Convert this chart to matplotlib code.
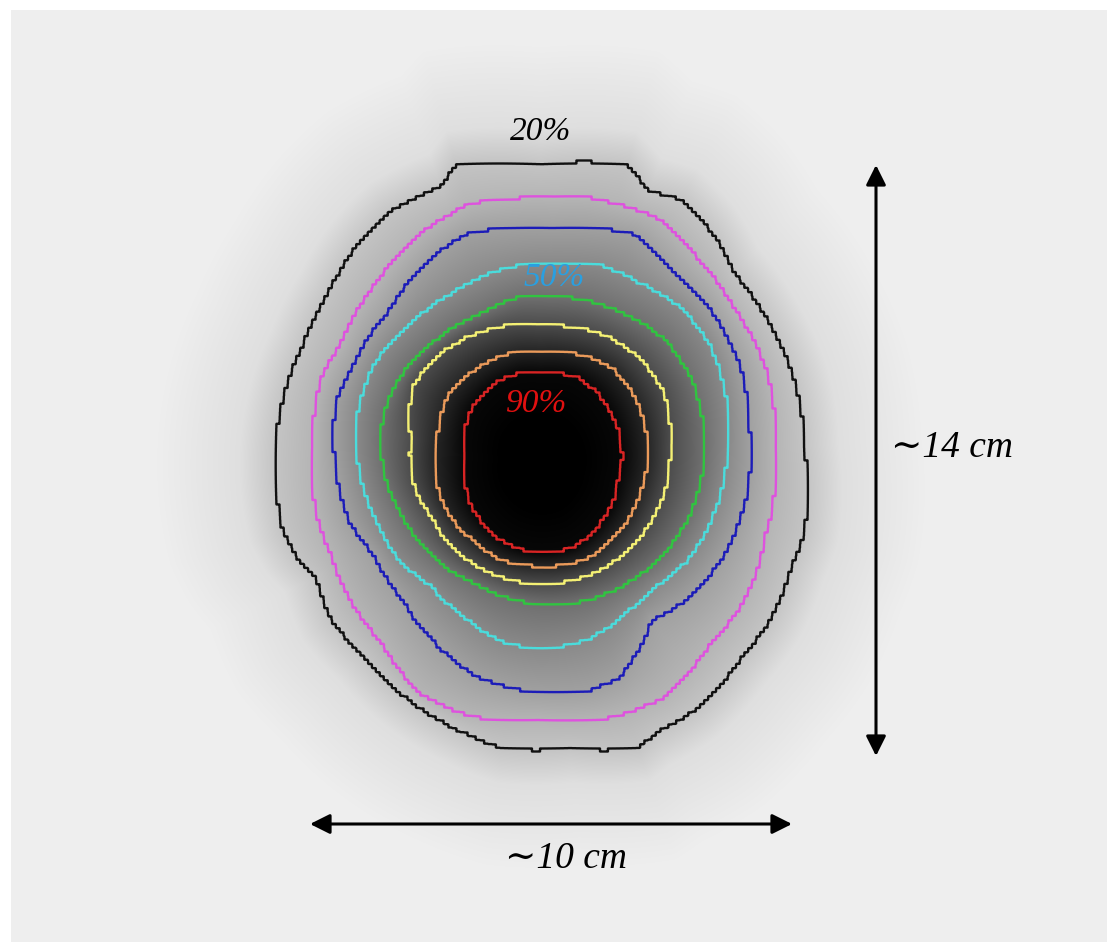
import numpy as np
import matplotlib
matplotlib.use('Agg')
import matplotlib.pyplot as plt

# isodose levels (%) and their line colours
levels = [20, 30, 40, 50, 60, 70, 80, 90]
level_colors = ['#111111', '#de52de', '#1c1cb8', '#4adcdc', '#30c440', '#f4f074', '#ea9a5a', '#d82424']

# isodose outlines (pixel positions)
iso20_x = [541, 627, 649, 681, 713, 734, 770, 795, 804, 804, 791, 770, 741, 699, 656, 638, 570, 502, 456, 406, 363, 331, 316, 299, 284, 284, 302, 327, 359, 388, 441, 456]
iso20_y = [165, 165, 191, 200, 234, 273, 325, 382, 447, 534, 568, 620, 659, 707, 733, 748, 748, 748, 729, 698, 655, 620, 577, 560, 534, 395, 347, 295, 243, 213, 187, 165]
iso30_x = [555, 591, 609, 656, 699, 734, 766, 775, 766, 745, 709, 663, 609, 538, 470, 420, 381, 352, 331, 316, 313, 320, 341, 377, 420, 470, 520]
iso30_y = [198, 198, 202, 217, 260, 308, 369, 447, 534, 599, 646, 698, 718, 720, 716, 694, 642, 603, 555, 512, 447, 382, 343, 282, 234, 204, 198]
iso40_x = [552, 591, 634, 674, 709, 738, 749, 745, 724, 688, 652, 620, 591, 520, 477, 434, 402, 374, 349, 336, 336, 356, 388, 424, 466, 513]
iso40_y = [228, 228, 234, 273, 308, 360, 425, 503, 555, 599, 620, 677, 690, 690, 677, 642, 599, 555, 521, 469, 403, 360, 312, 265, 234, 228]
iso50_x = [565, 599, 638, 681, 709, 727, 727, 713, 688, 656, 627, 591, 541, 502, 463, 431, 395, 374, 359, 359, 377, 409, 449, 491, 538]
iso50_y = [263, 265, 282, 308, 343, 404, 456, 516, 560, 586, 612, 638, 649, 642, 616, 586, 555, 516, 469, 404, 360, 325, 295, 273, 263]
iso60_x = [549, 581, 620, 663, 691, 704, 691, 663, 631, 591, 549, 513, 470, 427, 402, 384, 384, 406, 438, 484, 520]
iso60_y = [297, 299, 312, 338, 378, 438, 512, 555, 581, 599, 605, 599, 581, 551, 516, 473, 412, 369, 339, 312, 297]
iso70_x = [538, 563, 602, 641, 663, 670, 656, 627, 584, 541, 491, 456, 431, 413, 411, 413, 438, 470, 510]
iso70_y = [325, 326, 334, 360, 391, 447, 512, 551, 577, 584, 573, 551, 516, 482, 438, 386, 356, 336, 325]
iso80_x = [541, 577, 613, 638, 647, 641, 613, 584, 541, 502, 470, 445, 435, 438, 449, 477, 520]
iso80_y = [351, 354, 369, 404, 438, 490, 538, 560, 566, 560, 538, 508, 469, 430, 395, 369, 351]
iso90_x = [541, 577, 606, 620, 618, 602, 574, 541, 513, 484, 466, 465, 470, 491, 520]
iso90_y = [373, 377, 404, 438, 482, 521, 547, 553, 547, 525, 490, 456, 412, 386, 373]

outlines = [(iso20_x, iso20_y), (iso30_x, iso30_y), (iso40_x, iso40_y), (iso50_x, iso50_y),
            (iso60_x, iso60_y), (iso70_x, iso70_y), (iso80_x, iso80_y), (iso90_x, iso90_y)]

# shading: dose (%) -> grey level
shade_dose = [0, 10, 20, 30, 40, 50, 60, 70, 80, 90, 95, 100]
shade_grey = [0.935, 0.875, 0.77, 0.71, 0.63, 0.54, 0.44, 0.30, 0.15, 0.03, 0.0, 0.0]

W, H = 1107, 942
cx, cy = 541, 465


def to_polar(xs, ys):
    xs = np.asarray(xs, float)
    ys = np.asarray(ys, float)
    ang = np.arctan2(-(ys - cy), xs - cx)
    rad = np.hypot(xs - cx, ys - cy)
    order = np.argsort(ang)
    return ang[order], rad[order]


polar = [to_polar(x, y) for x, y in outlines]


def dose_field(px, py):
    th = np.arctan2(-(py - cy), px - cx)
    d = np.hypot(px - cx, py - cy)
    radii = [np.interp(th, a, r, period=2 * np.pi) for a, r in polar]
    r20 = radii[0]
    knots = [np.zeros_like(d)] + radii[::-1] + [r20 + 35, r20 + 120]
    vals = [100] + levels[::-1] + [10, 0]
    out = np.zeros_like(d)
    for i in range(len(knots) - 1):
        lo, hi = knots[i], knots[i + 1]
        m = (d >= lo) & (d < hi)
        t = (d[m] - lo[m]) / np.maximum(hi[m] - lo[m], 1e-6)
        out[m] = vals[i] + (vals[i + 1] - vals[i]) * t
    return out


px = np.arange(W) + 0.5
py = np.arange(H) + 0.5
PX, PY = np.meshgrid(px, py)
smooth = dose_field(PX, PY)

# voxel grid for the isodose lines
step = 4
gx = np.arange(0, W, step) + step / 2
gy = np.arange(0, H, step) + step / 2
GX, GY = np.meshgrid(gx, gy)
blocky = np.repeat(np.repeat(dose_field(GX, GY), step, axis=0), step, axis=1)[:H, :W]

grey = np.interp(smooth, shade_dose, shade_grey)
rgb = np.dstack([grey, grey, grey])
rgb[:10, :, :] = 1.0
rgb[:, :11, :] = 1.0

fig = plt.figure(figsize=(W / 100, H / 100), dpi=100, facecolor='#eeeeee')
ax = fig.add_axes([0, 0, 1, 1])
ax.imshow(rgb, extent=(0, W, H, 0), interpolation='bilinear')
ax.contour(PX, PY, blocky, levels=levels, colors=level_colors, linewidths=1.7)
ax.set_xlim(0, W)
ax.set_ylim(H, 0)
ax.axis('off')

font = dict(family=['Liberation Serif', 'DejaVu Serif'], style='italic', ha='center', va='center')
ax.text(541, 132, '20%', fontsize=24, color='black', **font)
ax.text(554, 278, '50%', fontsize=24, color='#2a9fe0', **font)
ax.text(536, 404, '90%', fontsize=24, color='#e01010', **font)
ax.text(952, 448, '\u223c14 cm', fontsize=27, color='black', **font)
ax.text(566, 859, '\u223c10 cm', fontsize=27, color='black', **font)

arrow = dict(arrowstyle='<|-|>,head_length=0.6,head_width=0.3', color='black', lw=2.2,
             mutation_scale=20, shrinkA=0, shrinkB=0)
ax.annotate('', xy=(876, 165), xytext=(876, 756), arrowprops=arrow)
ax.annotate('', xy=(310, 824), xytext=(792, 824), arrowprops=arrow)

fig.savefig('out.png', dpi=100, facecolor=fig.get_facecolor())
